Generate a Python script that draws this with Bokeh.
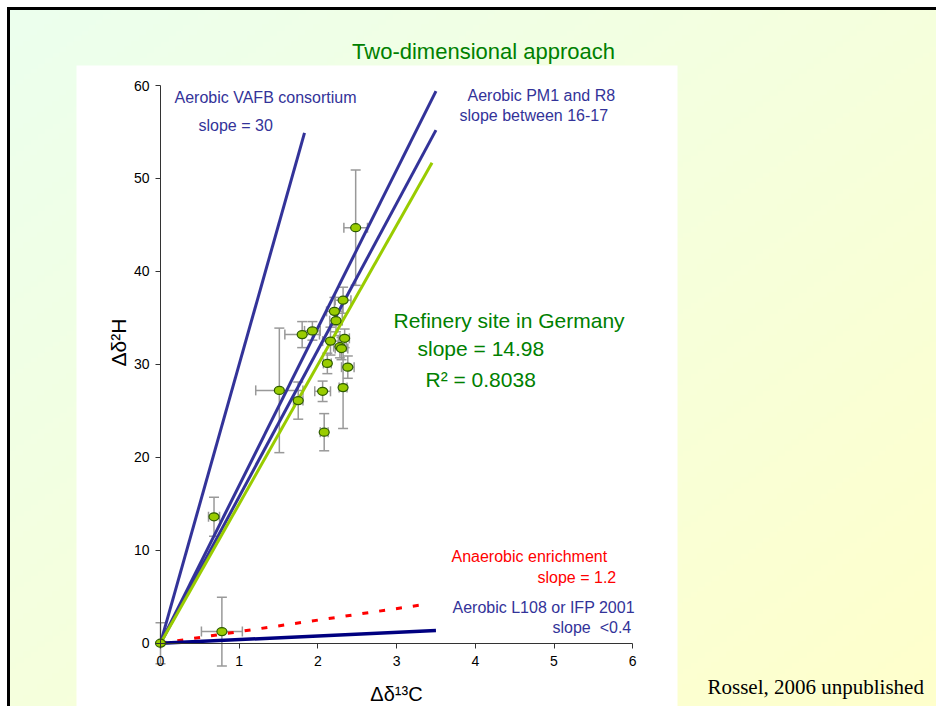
import numpy as np
from bokeh.plotting import figure
from bokeh.models import (Range1d, LinearAxis, FixedTicker, Label, Whisker,
                          TeeHead, ColumnDataSource)
from bokeh.embed import file_html
from bokeh.resources import INLINE

# ---------------- data ----------------
pts_x = [0.00, 0.78, 0.68, 1.51, 1.75, 1.80, 1.93, 2.06, 2.08, 2.12,
         2.16, 2.21, 2.23, 2.28, 2.30, 2.32, 2.32, 2.34, 2.38, 2.48]
pts_y = [0.0, 1.25, 13.6, 27.2, 26.1, 33.2, 33.6, 27.1, 22.7, 30.1,
         32.5, 35.7, 34.7, 31.9, 31.7, 27.5, 36.9, 32.8, 29.7, 44.7]
err_x = [0.0, 0.26, 0.07, 0.30, 0.06, 0.22, 0.10, 0.10, 0.05, 0.05,
         0.10, 0.10, 0.08, 0.08, 0.08, 0.05, 0.10, 0.06, 0.08, 0.15]
err_y = [2.2, 3.7, 2.1, 6.7, 2.0, 1.4, 1.0, 1.1, 2.0, 1.1,
         1.5, 1.5, 1.2, 1.2, 1.2, 4.4, 1.4, 1.0, 1.2, 6.2]

vafb_x = [0.0, 1.83]
vafb_y = [0.0, 54.9]
pm1_x = [0.0, 3.5]
pm1_y = [0.0, 59.4]
r8_x = [0.0, 3.5]
r8_y = [0.0, 55.2]
site_x = [0.0, 3.45]
site_y = [0.0, 51.7]
anaer_x = [0.0, 3.38]
anaer_y = [0.0, 4.2]
l108_x = [0.0, 3.5]
l108_y = [0.0, 1.37]

x_ticks = [0, 1, 2, 3, 4, 5, 6]
y_ticks = [0, 10, 20, 30, 40, 50, 60]

# ---------------- layout helpers (picture pixels -> data) ----------------
W, H = 936, 706
X0, SX = 160.0, 78.7      # px of x=0, px per unit
Y0, SY = 642.7, 9.295     # px of y=0, px per unit


def dx_(px):
    return (px - X0) / SX


def dy_(py):
    return (Y0 - py) / SY


p = figure(width=W, height=H, output_backend="svg", toolbar_location=None,
           x_range=Range1d(dx_(0), dx_(W)),
           y_range=Range1d(dy_(H), dy_(0)),
           x_axis_location=None, y_axis_location=None, min_border=0)
p.title.text = ""
p.title.visible = False
p.xgrid.visible = False
p.ygrid.visible = False
p.outline_line_color = None
p.background_fill_color = "white"
p.border_fill_color = "white"

# slide background gradient (light green -> light yellow)
n = 128
u = np.linspace(0, 1, n)[None, :]
v = np.linspace(1, 0, n)[:, None]   # row 0 = bottom
t = (u + v) / 2.0
c0 = np.array([236, 255, 238])
c1 = np.array([255, 255, 204])
img = np.zeros((n, n, 4), dtype=np.uint8)
for k in range(3):
    img[:, :, k] = np.clip(c0[k] + (c1[k] - c0[k]) * t, 0, 255).astype(np.uint8)
img[:, :, 3] = 255
img32 = img.view(dtype=np.uint32).reshape((n, n))
p.image_rgba(image=[img32], x=dx_(8), y=dy_(H),
             dw=(W - 8) / SX, dh=(H - 8) / SY, level="image")

# white chart area
p.quad(left=[dx_(76)], right=[dx_(677)], bottom=[dy_(H + 5)],
       top=[dy_(65)], fill_color="white", line_color=None, level="image")

# slide frame (top and left)
p.line([dx_(8), dx_(8)], [dy_(6.5), dy_(H)], line_color="black",
       line_width=3, level="image")
p.line([dx_(6.5), dx_(W)], [dy_(8), dy_(8)], line_color="black",
       line_width=3, level="image")

# axes
FONT = "Liberation Sans"
xaxis = LinearAxis(fixed_location=0, bounds=(0, 6),
                   ticker=FixedTicker(ticks=x_ticks),
                   axis_label="Δδ¹³C")
yaxis = LinearAxis(fixed_location=0, bounds=(0, 60),
                   ticker=FixedTicker(ticks=y_ticks))
for ax in (xaxis, yaxis):
    ax.axis_line_color = "#333333"
    ax.axis_line_width = 1
    ax.major_tick_line_color = "#333333"
    ax.major_tick_in = 0
    ax.major_tick_out = 5
    ax.minor_tick_in = 0
    ax.minor_tick_out = 0
    ax.major_label_text_font = FONT
    ax.major_label_text_font_size = "14px"
    ax.major_label_text_color = "black"
    ax.major_label_standoff = 6
xaxis.major_label_standoff = 8
xaxis.axis_label_text_font = FONT
xaxis.axis_label_text_font_size = "20px"
xaxis.axis_label_text_font_style = "normal"
xaxis.axis_label_text_color = "black"
xaxis.axis_label_standoff = 13
p.add_layout(xaxis, "below")
p.add_layout(yaxis, "left")

# y axis title
p.add_layout(Label(x=dx_(118), y=dy_(342), text="Δδ²H", angle=np.pi / 2,
                   text_align="center", text_baseline="middle",
                   text_font=FONT, text_font_size="21px", text_color="black"))

# reference lines
BLUE = "#333399"
p.line(vafb_x, vafb_y, line_color=BLUE, line_width=3)
p.line(pm1_x, pm1_y, line_color=BLUE, line_width=3)
p.line(r8_x, r8_y, line_color=BLUE, line_width=3)
p.line(site_x, site_y, line_color="#99CC00", line_width=3)
p.line(anaer_x, anaer_y, line_color="#FF0000", line_width=3, line_dash="6 11")
p.line(l108_x, l108_y, line_color="#000080", line_width=3.5)

# data points with error bars
src = ColumnDataSource(dict(
    x=pts_x, y=pts_y,
    xl=[a - b for a, b in zip(pts_x, err_x)],
    xu=[a + b for a, b in zip(pts_x, err_x)],
    yl=[a - b for a, b in zip(pts_y, err_y)],
    yu=[a + b for a, b in zip(pts_y, err_y)],
))
GRAY = "#999999"


def head():
    return TeeHead(size=10, line_color=GRAY, line_width=1.5)


p.add_layout(Whisker(source=src, base="x", lower="yl", upper="yu",
                     dimension="height", line_color=GRAY, line_width=1.5,
                     upper_head=head(), lower_head=head(), level="underlay"))
p.add_layout(Whisker(source=src, base="y", lower="xl", upper="xu",
                     dimension="width", line_color=GRAY, line_width=1.5,
                     upper_head=head(), lower_head=head(), level="underlay"))
p.ellipse(x="x", y="y", width=10, height=8, width_units="screen",
          height_units="screen", fill_color="#99CC00", line_color="#2E5C00",
          line_width=1.2, source=src)


def lab(px, py, text, color, size, align="left", font=FONT):
    p.add_layout(Label(x=dx_(px), y=dy_(py), text=text, text_align=align,
                       text_baseline="middle", text_font=font,
                       text_font_size=size, text_color=color))


GREEN = "#008000"
lab(483, 51, "Two-dimensional approach", GREEN, "22px", align="center")
lab(174, 97, "Aerobic VAFB consortium", BLUE, "16px")
lab(198, 125, "slope = 30", BLUE, "16px")
lab(467, 95, "Aerobic PM1 and R8", BLUE, "16px")
lab(459, 115, "slope between 16-17", BLUE, "16px")
lab(393, 320, "Refinery site in Germany", GREEN, "21px")
lab(417, 348, "slope = 14.98", GREEN, "21px")
lab(425, 379, "R² = 0.8038", GREEN, "21px")
lab(451, 556, "Anaerobic enrichment", "#FF0000", "16px")
lab(537, 577, "slope = 1.2", "#FF0000", "16px")
lab(452, 607, "Aerobic L108 or IFP 2001", BLUE, "16px")
lab(552, 627, "slope\u00a0 <0.4", BLUE, "16px")
lab(707, 686, "Rossel, 2006 unpublished", "black", "21px",
    font="Liberation Serif")

open("out.html", "w").write(file_html(p, INLINE))
